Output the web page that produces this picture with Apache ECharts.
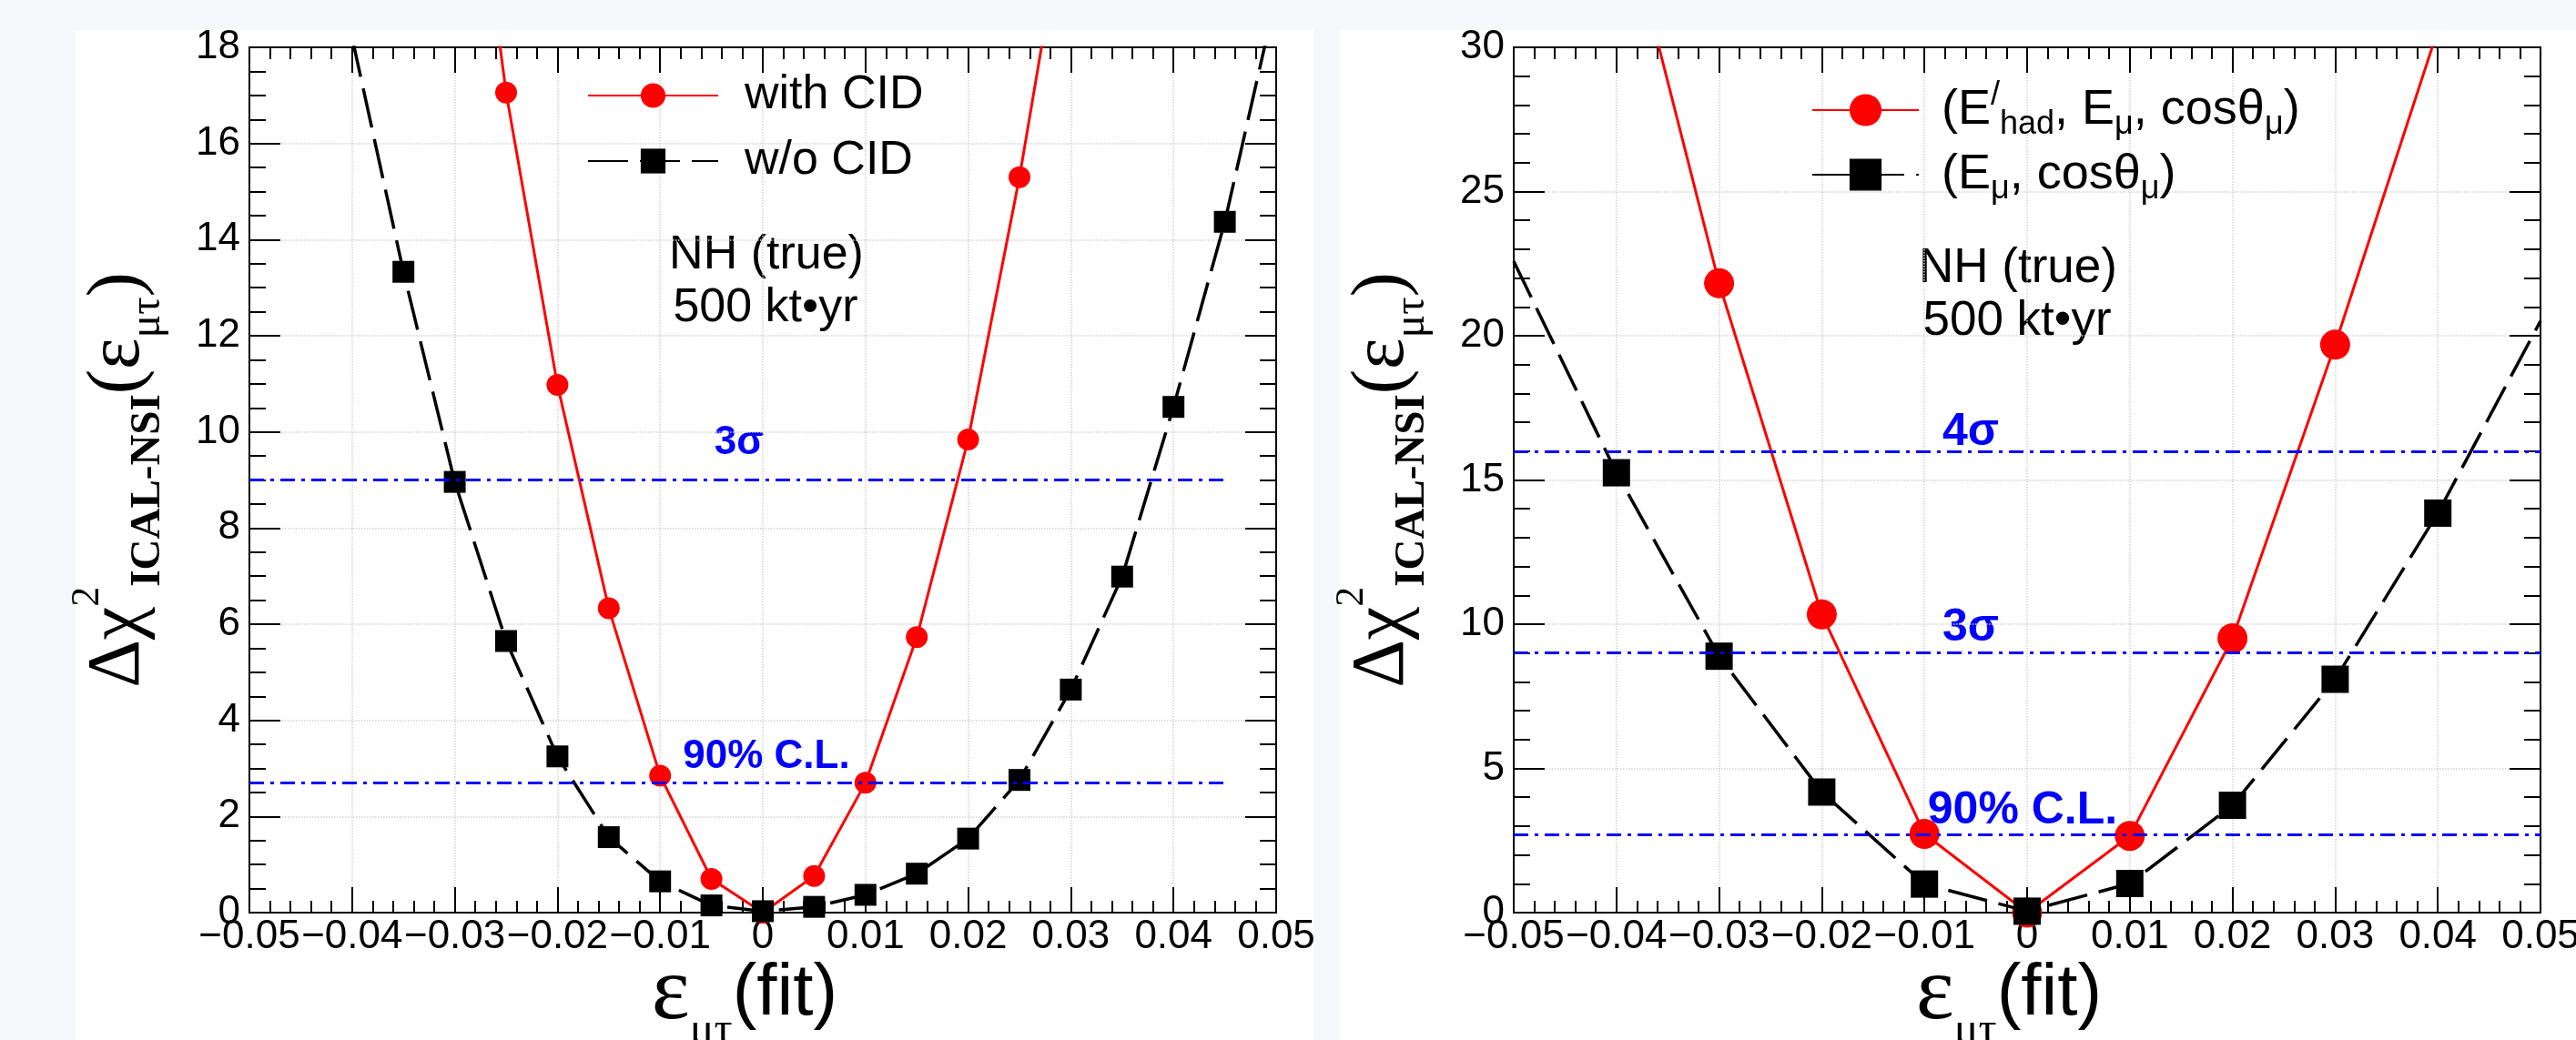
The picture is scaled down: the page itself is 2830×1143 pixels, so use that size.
<!DOCTYPE html>
<html><head><meta charset="utf-8">
<script src="https://cdn.jsdelivr.net/npm/echarts@6/dist/echarts.min.js"></script>
<style>
html,body{margin:0;padding:0;background:#f7f8fc;}
.panel{position:absolute;background:#fff;}
#c{position:absolute;left:0;top:0;width:2830px;height:1143px;}
</style>
</head><body>
<div class="panel" style="left:83px;top:33px;width:1360px;height:1110px"></div>
<div class="panel" style="left:1472px;top:33px;width:1358px;height:1110px"></div>
<div id="c"></div>
<script>
// ---------- data ----------
// Left panel: with / without charge identification (CID)
const leftCidX   = [-0.03,-0.025,-0.02,-0.015,-0.01,-0.005,0,0.005,0.01,0.015,0.02,0.025,0.03];
const leftCidY   = [25.2,17.06,10.98,6.33,2.85,0.70,0.0,0.76,2.70,5.73,9.84,15.30,21.6];
const leftNoCidX = [-0.04,-0.035,-0.03,-0.025,-0.02,-0.015,-0.01,-0.005,0,0.005,0.01,0.015,0.02,0.025,0.03,0.035,0.04,0.045,0.05];
const leftNoCidY = [18.2,13.33,8.96,5.65,3.25,1.57,0.65,0.15,0.03,0.12,0.37,0.81,1.54,2.76,4.64,6.99,10.52,14.37,19.07];
// Right panel: with / without hadron energy
const rightHadX  = [-0.04,-0.03,-0.02,-0.01,0,0.01,0.02,0.03,0.04];
const rightHadY  = [35.8,21.82,10.34,2.73,0.0,2.66,9.51,19.69,30.6];
const rightMuX   = [-0.05,-0.04,-0.03,-0.02,-0.01,0,0.01,0.02,0.03,0.04,0.05];
const rightMuY   = [22.58,15.25,8.89,4.18,0.99,0.05,1.01,3.72,8.09,13.85,20.51];
// Confidence levels
const leftLevels   = [2.71, 9];
const leftLevelNames = ['90% C.L.', '3σ'];
const leftLevelXRange = [-0.05, 0.045];
const rightLevels  = [2.71, 9, 16];
const rightLevelNames = ['90% C.L.', '3σ', '4σ'];
const rightLevelXRange = [-0.05, 0.05];
// axes
const xRange = [-0.05, 0.05], xStep = 0.01;
const leftYRange = [0, 18], leftYStep = 2;
const rightYRange = [0, 30], rightYStep = 5;
const seriesNames = ['with CID', 'w/o CID', '(E′had, Eμ, cosθμ)', '(Eμ, cosθμ)'];

// ---------- chart ----------
const SANS = '"Liberation Sans", Arial, Helvetica, sans-serif';
const SERIF = '"Liberation Serif", "Times New Roman", serif';
const chart = echarts.init(document.getElementById('c'), null, {renderer:'canvas'});

function fmtX(v){
  if (Math.abs(v) < 1e-9) return '0';
  return (v < 0 ? '\u2212' : '') + Math.abs(v).toFixed(2);
}
const grids = [
  {left:274, top:52, width:1128, height:951, containLabel:false, outerBoundsMode:'none'},
  {left:1663, top:52, width:1128, height:951, containLabel:false, outerBoundsMode:'none'}
];
const frameLine = {show:true, onZero:false, lineStyle:{color:'#000', width:2}};
function xAxis(g, pos, main){
  return {
    type:'value', gridIndex:g, position:pos, min:xRange[0], max:xRange[1], interval:xStep,
    axisLine:frameLine,
    axisTick:{show:true, inside:true, length:28, lineStyle:{color:'#000', width:2}},
    minorTick:{show:true, splitNumber:5, length:13, lineStyle:{color:'#000', width:2}},
    axisLabel:{show:main, formatter:fmtX, fontSize:44, fontFamily:SANS, color:'#000', margin:5, hideOverlap:false},
    splitLine:{show:main, lineStyle:{type:'dotted', color:'#d2d2d2', width:1.5}},
    name: main ? '{e|ε}{s|μτ}{f|(fit)}' : '',
    nameLocation:'middle', nameGap:24, nameMoveOverlap:false,
    nameTextStyle:{padding:[0,40,0,0], rich:{
      e:{fontFamily:SERIF, fontSize:100, lineHeight:132, verticalAlign:'middle', color:'#000'},
      s:{fontFamily:SERIF, fontSize:50, lineHeight:50, verticalAlign:'bottom', color:'#000'},
      f:{fontFamily:SANS, fontSize:80, lineHeight:132, verticalAlign:'middle', color:'#000'}
    }}
  };
}
function yAxis(g, pos, main, range, step, minorSplit){
  return {
    type:'value', gridIndex:g, position:pos, min:range[0], max:range[1], interval:step,
    axisLine:frameLine,
    axisTick:{show:true, inside:true, length:34, lineStyle:{color:'#000', width:2}},
    minorTick:{show:true, splitNumber:minorSplit, length:18, lineStyle:{color:'#000', width:2}},
    axisLabel:{show:main, fontSize:44, fontFamily:SANS, color:'#000', margin:10, hideOverlap:false},
    splitLine:{show:main, lineStyle:{type:'dotted', color:'#d2d2d2', width:1.5}},
    name: main ? '{b|Δχ}{p|2}{s|ICAL-NSI}{b|(ε}{t|μτ}{b|)}' : '',
    nameLocation:'middle', nameRotate:90, nameGap:88, nameMoveOverlap:false,
    nameTextStyle:{rich:{
      b:{fontFamily:SERIF, fontSize:82, lineHeight:112, verticalAlign:'middle', color:'#000'},
      p:{fontFamily:SERIF, fontSize:44, lineHeight:44, verticalAlign:'top', color:'#000'},
      s:{fontFamily:SERIF, fontWeight:'bold', fontSize:47, lineHeight:47, verticalAlign:'bottom', color:'#000'},
      t:{fontFamily:SERIF, fontSize:48, lineHeight:47, verticalAlign:'bottom', color:'#000'}
    }}
  };
}

function edgeHidden(xs, ys){
  return xs.map((x,i)=>{
    const o = {value:[x, ys[i]]};
    if (Math.abs(Math.abs(x) - 0.05) < 1e-9) o.symbol = 'none';
    return o;
  });
}
function pairs(xs, ys){ return xs.map((x,i)=>[x, ys[i]]); }

function levelSeries(g, levels, xr){
  return {
    type:'line', xAxisIndex:g*2, yAxisIndex:g*2, data:[], silent:true, z:1,
    markLine:{
      silent:true, symbol:['none','none'], animation:false,
      label:{show:false},
      lineStyle:{color:'#0000ff', width:3, type:[16,7,4,7]},
      data: levels.map(l => [{coord:[xr[0], l]}, {coord:[xr[1], l]}])
    }
  };
}

const redStyle = {color:'#ff0000', width:3};
const blackStyle = {color:'#000000', width:3.5, type:[44,13]};

function legendRich(size, sub){
  return {
    t:{fontSize:size, fontFamily:SANS, color:'#000', lineHeight:62, verticalAlign:'middle'},
    b:{fontSize:sub, fontFamily:SANS, color:'#000', lineHeight:68, verticalAlign:'bottom'},
    u:{fontSize:sub, fontFamily:SANS, color:'#000', lineHeight:62, verticalAlign:'top'}
  };
}
const legendFmt = {
  'with CID':'{t|with CID}',
  'w/o CID':'{t|w/o CID}',
  '(E′had, Eμ, cosθμ)':'{t|(E}{u|/}{b|had}{t|, E}{b|μ}{t|, cosθ}{b|μ}{t|)}',
  '(Eμ, cosθμ)':'{t|(E}{b|μ}{t|, cosθ}{b|μ}{t|)}'
};

const option = {
  animation:false,
  backgroundColor:'transparent',
  grid: grids,
  xAxis:[xAxis(0,'bottom',true), xAxis(0,'top',false), xAxis(1,'bottom',true), xAxis(1,'top',false)],
  yAxis:[yAxis(0,'left',true,leftYRange,leftYStep,4), yAxis(0,'right',false,leftYRange,leftYStep,4),
         yAxis(1,'left',true,rightYRange,rightYStep,5), yAxis(1,'right',false,rightYRange,rightYStep,5)],
  legend:[
    {data:[seriesNames[0], seriesNames[1]], orient:'vertical', left:640, top:74, itemWidth:143, itemHeight:34, itemGap:20,
     formatter:n=>legendFmt[n], textStyle:{rich:legendRich(52,34), padding:[0,0,0,24]}, selectedMode:false},
    {data:[seriesNames[2], seriesNames[3]], orient:'vertical', left:1985, top:82, itemWidth:117, itemHeight:44, itemGap:10,
     formatter:n=>legendFmt[n], textStyle:{rich:legendRich(54,36), padding:[0,0,0,20]}, selectedMode:false}
  ],
  series:[
    levelSeries(0, leftLevels, leftLevelXRange),
    levelSeries(1, rightLevels, rightLevelXRange),
    {type:'line', name:seriesNames[0], xAxisIndex:0, yAxisIndex:0, data:pairs(leftCidX,leftCidY),
     symbol:'circle', symbolSize:24, showAllSymbol:true, clip:true, z:3,
     lineStyle:redStyle, itemStyle:{color:'#ff0000'}},
    {type:'line', name:seriesNames[1], xAxisIndex:0, yAxisIndex:0, data:edgeHidden(leftNoCidX,leftNoCidY),
     symbol:'rect', symbolSize:24, showAllSymbol:true, clip:true, z:4,
     lineStyle:blackStyle, itemStyle:{color:'#000'}},
    {type:'line', name:seriesNames[2], xAxisIndex:2, yAxisIndex:2, data:pairs(rightHadX,rightHadY),
     symbol:'circle', symbolSize:33, showAllSymbol:true, clip:true, z:3,
     lineStyle:redStyle, itemStyle:{color:'#ff0000'}},
    {type:'line', name:seriesNames[3], xAxisIndex:2, yAxisIndex:2, data:edgeHidden(rightMuX,rightMuY),
     symbol:'rect', symbolSize:30, showAllSymbol:true, clip:true, z:4,
     lineStyle:blackStyle, itemStyle:{color:'#000'}}
  ],
  graphic:[
    {type:'text', x:842, y:281, style:{text:'NH (true)', font:'52px '+SANS, fill:'#000', align:'center', verticalAlign:'middle'}},
    {type:'text', x:841, y:339, style:{text:'500 kt\u2022yr', font:'52px '+SANS, fill:'#000', align:'center', verticalAlign:'middle'}},
    {type:'text', x:2217, y:295, style:{text:'NH (true)', font:'53px '+SANS, fill:'#000', align:'center', verticalAlign:'middle'}},
    {type:'text', x:2216, y:353, style:{text:'500 kt\u2022yr', font:'53px '+SANS, fill:'#000', align:'center', verticalAlign:'middle'}},
    {type:'text', x:812, y:487, style:{text:leftLevelNames[1], font:'bold 44px '+SANS, fill:'#0000ff', align:'center', verticalAlign:'middle'}},
    {type:'text', x:842, y:832, style:{text:leftLevelNames[0], font:'bold 44px '+SANS, fill:'#0000ff', align:'center', verticalAlign:'middle'}},
    {type:'text', x:2165, y:475, style:{text:rightLevelNames[2], font:'bold 50px '+SANS, fill:'#0000ff', align:'center', verticalAlign:'middle'}},
    {type:'text', x:2165, y:690, style:{text:rightLevelNames[1], font:'bold 50px '+SANS, fill:'#0000ff', align:'center', verticalAlign:'middle'}},
    {type:'text', x:2222, y:891, style:{text:rightLevelNames[0], font:'bold 50px '+SANS, fill:'#0000ff', align:'center', verticalAlign:'middle'}}
  ]
};
chart.setOption(option);
</script>
</body></html>
